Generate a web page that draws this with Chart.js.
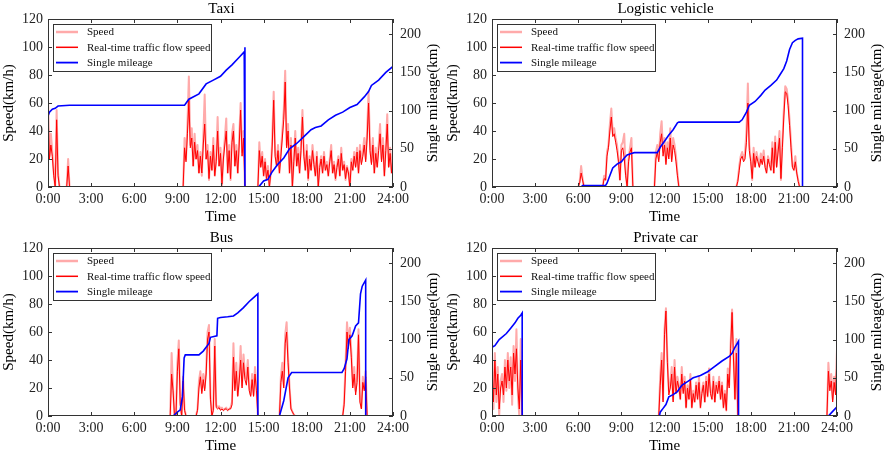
<!DOCTYPE html>
<html lang="en">
<head>
<meta charset="UTF-8">
<title>Vehicle speed and single mileage</title>
<style>
    html, body { margin: 0; padding: 0; background: #fff; overflow: hidden; }
    .panel { position: absolute; width: 443px; height: 228px; }
</style>
<script src="https://cdn.jsdelivr.net/npm/chart.js"></script>
</head>
<body>
<div class="panel" style="left:0;top:0"><canvas id="taxi" width="443" height="228"></canvas></div>
<div class="panel" style="left:444px;top:0"><canvas id="logistic" width="443" height="228"></canvas></div>
<div class="panel" style="left:0;top:229px"><canvas id="bus" width="443" height="228"></canvas></div>
<div class="panel" style="left:444px;top:229px"><canvas id="car" width="443" height="228"></canvas></div>

<script>
// sampling step (hours) of the speed segments
const STEP = 0.1;
const hourTicks = [0, 3, 6, 9, 12, 15, 18, 21, 24];

// ---- Taxi ----
const taxiStarts = [0, 1.3, 9.4, 14.6];
const taxiSpeed = [
    [62, 22, 38, 25, 10, 0, 55, 10, 0],
    [0, 20, 0],
    [0, 35, 20, 45, 79, 30, 42, 15, 38, 20,
     30, 10, 25, 8, 35, 66, 20, 30, 5, 25,
     12, 35, 8, 20, 50, 15, 28, 0, 22, 35,
     49, 10, 30, 5, 38, 45, 15, 30, 10, 35,
     60, 25, 40, 0],
    [0, 32, 15, 25, 8, 20, 5, 15, 0, 10,
     35, 68, 25, 15, 30, 10, 25, 40, 55, 83,
     30, 45, 10, 35, 0, 20, 40, 15, 28, 10,
     30, 55, 25, 12, 30, 5, 22, 12, 30, 18,
     8, 25, 0, 15, 22, 10, 25, 12, 18, 8,
     20, 30, 10, 18, 5, 15, 22, 8, 28, 12,
     18, 5, 15, 10, 0, 20, 12, 25, 15, 28,
     10, 30, 18, 25, 35, 20, 40, 68, 30, 18,
     35, 10, 28, 15, 30, 45, 20, 35, 8, 30,
     52, 15, 28, 10, 25]
];
const taxiFlow = [
    [55, 20, 30, 22, 8, 0, 48, 8, 0],
    [0, 15, 0],
    [0, 28, 18, 38, 62, 28, 35, 15, 32, 20,
     26, 10, 22, 10, 30, 45, 20, 26, 6, 22,
     12, 30, 8, 18, 40, 15, 24, 2, 20, 30,
     40, 10, 26, 6, 32, 40, 15, 26, 10, 30,
     55, 22, 35, 0],
    [0, 26, 14, 22, 8, 18, 6, 12, 0, 10,
     30, 62, 22, 15, 26, 10, 22, 35, 48, 75,
     28, 40, 10, 30, 0, 18, 35, 15, 24, 10,
     26, 50, 22, 12, 26, 6, 20, 12, 26, 16,
     8, 22, 0, 14, 20, 10, 22, 12, 16, 8,
     18, 26, 10, 16, 6, 14, 20, 8, 24, 12,
     16, 6, 14, 10, 0, 18, 12, 22, 14, 25,
     10, 26, 16, 22, 30, 18, 35, 60, 26, 16,
     30, 10, 24, 14, 26, 38, 18, 30, 8, 26,
     45, 14, 24, 10, 22]
];
const taxiMileT = [0, 0.1, 0.3, 0.5, 0.7, 1.5, 9.5, 9.8, 10.5, 11.0, 11.5, 12.0, 12.4, 12.8, 13.3, 13.65, 13.7, 13.7,
    14.65, 15.0, 15.3, 15.6, 16.0, 16.4, 16.8, 17.3, 17.8, 18.3, 18.6, 19.0, 19.5, 20.0, 20.5, 21.0, 21.5, 22.0, 22.3, 22.5, 23.0, 23.5, 24];
const taxiMile = [93, 98, 102, 103, 106, 107, 107, 115, 122, 135, 140, 145, 153, 160, 170, 177, 183, 0,
    0, 8, 10, 20, 30, 38, 50, 57, 66, 75, 78, 80, 88, 94, 98, 104, 108, 118, 125, 133, 140, 150, 158];

// ---- Logistic vehicle ----
const logStarts = [6.0, 7.7, 11.3, 17.0];
const logSpeed = [
    [0, 4, 15, 6, 0],
    [0, 8, 5, 25, 30, 45, 56, 38, 42, 35, 30, 20, 5, 30, 32, 38, 10, 0, 20, 28, 35, 0],
    [0, 25, 30, 20, 38, 47, 25, 35, 18, 32, 22, 42, 20, 35, 30, 22, 10, 0],
    [0, 5, 15, 22, 25, 20, 24, 40, 74, 30,
     20, 5, 28, 15, 25, 20, 15, 24, 18, 26,
     15, 10, 22, 18, 12, 32, 10, 36, 15, 28,
     40, 5, 32, 55, 72, 70, 62, 48, 32, 15,
     12, 22, 10, 5, 0]
];
const logFlow = [
    [0, 3, 10, 5, 0],
    [0, 6, 5, 22, 28, 40, 50, 36, 38, 32, 26, 18, 5, 26, 28, 20, 8, 0, 18, 25, 28, 0],
    [0, 20, 25, 18, 32, 38, 22, 30, 16, 28, 20, 35, 18, 30, 26, 18, 8, 0],
    [0, 4, 12, 20, 22, 18, 20, 32, 60, 26,
     18, 6, 24, 14, 22, 18, 14, 20, 16, 22,
     14, 10, 20, 16, 12, 28, 10, 32, 14, 25,
     35, 6, 28, 50, 68, 67, 58, 44, 28, 14,
     12, 18, 10, 4, 0]
];
const logMileT = [0, 6.2, 6.3, 7.9, 8.0, 8.2, 8.4, 8.7, 9.0, 9.2, 9.4, 9.7, 9.9, 11.5, 11.7, 12.0, 12.3, 12.6, 12.9, 13.0,
    17.2, 17.4, 17.7, 17.9, 18.3, 18.7, 19.0, 19.4, 19.8, 20.0, 20.3, 20.5, 20.7, 20.9, 21.1, 21.3, 21.6, 21.6, 24];
const logMile = [0, 0, 2, 2, 5, 15, 25, 30, 33, 38, 42, 44, 45, 45, 52, 60, 68, 75, 84, 85,
    85, 88, 98, 107, 112, 120, 127, 133, 140, 146, 155, 165, 180, 189, 192, 194, 195, 0, 0];

// ---- Bus ----
const busStarts = [8.5, 10.3, 16.1, 20.5];
const busSpeed = [
    [0, 45, 20, 0, 0, 38, 54, 10, 0, 28, 5, 0],
    [0, 5, 25, 32, 18, 30, 20, 33, 60, 65,
     15, 0, 5, 55, 8, 6, 7, 5, 6, 4,
     5, 6, 4, 5, 6, 10, 52, 20, 38, 15,
     28, 50, 22, 44, 30, 26, 40, 20, 15, 30,
     15, 35, 20, 0],
    [0, 28, 38, 22, 58, 67, 42, 22, 6, 3, 1, 0],
    [0, 10, 38, 67, 52, 63, 46, 22, 35, 18, 28, 62, 12, 6, 28, 20, 32, 0]
];
const busFlow = [
    [0, 30, 18, 0, 0, 32, 48, 8, 0, 25, 4, 0],
    [0, 4, 20, 28, 16, 26, 18, 30, 55, 60,
     12, 0, 4, 50, 6, 5, 6, 4, 5, 4,
     5, 5, 4, 5, 5, 8, 42, 18, 32, 14,
     25, 40, 20, 38, 26, 22, 35, 18, 14, 26,
     14, 30, 18, 0],
    [0, 24, 32, 20, 52, 60, 38, 20, 5, 3, 1, 0],
    [0, 8, 32, 60, 48, 58, 42, 20, 30, 15, 24, 58, 10, 5, 24, 18, 28, 0]
];
const busMileT = [0, 8.7, 9.0, 9.2, 9.35, 9.47, 9.55, 10.5, 10.8, 11.0, 11.2, 11.3, 11.75, 11.8,
    12.0, 12.5, 12.9, 13.2, 13.6, 14.0, 14.3, 14.6, 14.6, 16.1, 16.4, 16.7, 16.95,
    20.45, 20.6, 20.8, 20.93, 21.16, 21.4, 21.6, 21.74, 21.86, 22.1, 22.1, 24];
const busMile = [0, 0, 5, 8, 25, 76, 80, 80, 85, 90, 95, 103, 105, 128,
    129, 130, 131, 135, 142, 150, 155, 160, 0, 0, 20, 50, 57,
    57, 62, 75, 100, 105, 118, 122, 160, 170, 178, 0, 0];

// ---- Private car ----
const carStarts = [0, 11.6, 23.3];
const carSpeed = [
    [40, 5, 45, 10, 35, 0, 25, 30, 10, 40, 18, 45, 20, 42, 8, 50, 25, 62, 15, 0, 55, 0],
    [0, 28, 45, 12, 62, 77, 42, 18, 22, 35,
     12, 40, 18, 28, 22, 12, 35, 18, 28, 6,
     22, 12, 30, 6, 18, 10, 24, 12, 28, 6,
     18, 24, 10, 28, 14, 34, 18, 12, 28, 10,
     24, 18, 28, 12, 24, 6, 18, 4, 34, 22,
     52, 76, 45, 12, 55, 0],
    [0, 38, 22, 30, 12, 28, 18, 48]
];
const carFlow = [
    [35, 10, 40, 15, 30, 5, 20, 25, 15, 35, 20, 40, 25, 35, 15, 45, 30, 48, 20, 5, 40, 0],
    [0, 22, 40, 10, 58, 75, 38, 15, 20, 30,
     10, 35, 16, 25, 20, 12, 30, 16, 25, 6,
     20, 12, 26, 6, 16, 10, 22, 12, 24, 6,
     16, 22, 10, 25, 14, 30, 16, 12, 25, 10,
     22, 16, 25, 12, 22, 6, 16, 4, 30, 20,
     48, 74, 40, 12, 45, 0],
    [0, 32, 18, 25, 10, 24, 15, 44]
];
const carMileT = [0, 0.2, 0.5, 1.0, 1.3, 1.6, 1.8, 2.0, 2.1, 2.1, 11.65, 11.7, 11.9, 12.1, 12.3, 12.6, 12.9, 13.2, 13.6, 14.0,
    14.5, 15.0, 15.5, 16.0, 16.5, 16.7, 16.9, 17.15, 17.15, 23.4, 23.7, 24];
const carMile = [90, 92, 100, 108, 115, 122, 128, 132, 135, 0, 0, 5, 10, 15, 25, 28, 32, 40, 45, 50,
    53, 58, 65, 72, 78, 82, 90, 98, 0, 0, 6, 12];

const FONT = "'Liberation Serif', 'Times New Roman', serif";
const INK = '#222';
const RIGHT_TITLE = 'Single mileage(km)';

function segPoints(starts, segs) {
    const pts = [];
    if (starts[0] > 0) pts.push({ x: 0, y: 0 });
    starts.forEach((t0, i) => {
        segs[i].forEach((v, j) => pts.push({ x: +(t0 + j * STEP).toFixed(2), y: v }));
    });
    if (pts[pts.length - 1].x < 24) pts.push({ x: 24, y: 0 });
    return pts;
}

function xyPoints(ts, vs) {
    return ts.map((t, i) => ({ x: t, y: vs[i] }));
}

// box frame, inward ticks, right axis title (bottom-to-top) and the legend inside the plot
const framePlugin = {
    id: 'frame',
    afterDraw(chart) {
        const { ctx, chartArea: a, scales } = chart;
        const tl = 4;
        ctx.save();
        ctx.strokeStyle = '#333';
        ctx.lineWidth = 1;
        ctx.strokeRect(a.left + 0.5, a.top + 0.5, a.right - a.left - 1, a.bottom - a.top - 1);
        ctx.beginPath();
        scales.x.ticks.forEach(t => {
            const px = Math.round(scales.x.getPixelForValue(t.value)) + 0.5;
            ctx.moveTo(px, a.bottom); ctx.lineTo(px, a.bottom - tl);
            ctx.moveTo(px, a.top); ctx.lineTo(px, a.top + tl);
        });
        scales.y.ticks.forEach(t => {
            const py = Math.round(scales.y.getPixelForValue(t.value)) + 0.5;
            ctx.moveTo(a.left, py); ctx.lineTo(a.left + tl, py);
        });
        scales.y1.ticks.forEach(t => {
            const py = Math.round(scales.y1.getPixelForValue(t.value)) + 0.5;
            ctx.moveTo(a.right, py); ctx.lineTo(a.right - tl, py);
        });
        ctx.stroke();

        // right axis title, read from bottom to top like the left one
        ctx.save();
        ctx.translate(chart.width - 10, (a.top + a.bottom) / 2);
        ctx.rotate(-Math.PI / 2);
        ctx.font = '15px ' + FONT;
        ctx.fillStyle = '#000';
        ctx.textAlign = 'center';
        ctx.textBaseline = 'middle';
        ctx.fillText(RIGHT_TITLE, 0, 0);
        ctx.restore();

        // legend
        const x0 = a.left + 5, y0 = a.top + 5, w = 158, h = 47;
        ctx.fillStyle = '#fff';
        ctx.fillRect(x0, y0, w, h);
        ctx.strokeStyle = '#333';
        ctx.lineWidth = 1;
        ctx.strokeRect(x0 + 0.5, y0 + 0.5, w, h);
        ctx.font = '11px ' + FONT;
        ctx.textBaseline = 'middle';
        chart.data.datasets.forEach((ds, i) => {
            const y = y0 + 8 + i * 15.3;
            ctx.beginPath();
            ctx.strokeStyle = ds.borderColor;
            ctx.lineWidth = ds.legendWidth;
            ctx.moveTo(x0 + 3, y); ctx.lineTo(x0 + 25, y);
            ctx.stroke();
            ctx.fillStyle = '#111';
            ctx.fillText(ds.label, x0 + 34, y + 0.5);
        });
        ctx.restore();
    }
};

function makeChart(id, title, starts, speed, flow, mileT, mile) {
    const ctx = document.getElementById(id).getContext('2d');
    return new Chart(ctx, {
        type: 'line',
        data: {
            datasets: [
                { label: 'Speed', data: segPoints(starts, speed), borderColor: '#ffaaaa', borderWidth: 2,
                  legendWidth: 2.5, order: 3, yAxisID: 'y', borderJoinStyle: 'round' },
                { label: 'Real-time traffic flow speed', data: segPoints(starts, flow), borderColor: '#ff0000', borderWidth: 1,
                  legendWidth: 1.5, order: 2, yAxisID: 'y', borderJoinStyle: 'round' },
                { label: 'Single mileage', data: xyPoints(mileT, mile), borderColor: '#0000ff', borderWidth: 1.6,
                  legendWidth: 1.8, order: 1, yAxisID: 'y1' }
            ]
        },
        options: {
            responsive: false,
            animation: false,
            elements: { point: { radius: 0 }, line: { tension: 0 } },
            layout: { padding: 0 },
            plugins: {
                legend: { display: false },
                tooltip: { enabled: false },
                title: { display: true, text: title, color: '#000',
                         font: { family: FONT, size: 15, weight: 'normal', lineHeight: 1.2 },
                         padding: { top: 0, bottom: 1 } }
            },
            scales: {
                x: {
                    type: 'linear', min: 0, max: 24,
                    afterBuildTicks: s => { s.ticks = hourTicks.map(v => ({ value: v })); },
                    ticks: { callback: v => v + ':00', color: INK, padding: 4, maxRotation: 0, autoSkip: false,
                             font: { family: FONT, size: 14 } },
                    grid: { display: false, drawTicks: false },
                    border: { display: false },
                    title: { display: true, text: 'Time', color: '#000', font: { family: FONT, size: 15 },
                             padding: { top: 0, bottom: 2 } },
                    afterFit: s => { s.height = 41; }
                },
                y: {
                    position: 'left', min: 0, max: 120,
                    ticks: { stepSize: 20, color: INK, padding: 5, font: { family: FONT, size: 14 } },
                    grid: { display: false, drawTicks: false },
                    border: { display: false },
                    title: { display: true, text: 'Speed(km/h)', color: '#000', font: { family: FONT, size: 15 },
                             padding: { top: 0, bottom: 0 } },
                    afterFit: s => { s.width = 48; }
                },
                y1: {
                    position: 'right', min: 0, max: 220,
                    afterBuildTicks: s => { s.ticks = s.ticks.filter(t => t.value % 50 === 0); },
                    ticks: { stepSize: 50, color: INK, padding: 7, font: { family: FONT, size: 14 } },
                    grid: { display: false, drawTicks: false },
                    border: { display: false },
                    title: { display: false },
                    afterFit: s => { s.width = 50; }
                }
            }
        },
        plugins: [framePlugin]
    });
}

makeChart('taxi', 'Taxi', taxiStarts, taxiSpeed, taxiFlow, taxiMileT, taxiMile);
makeChart('logistic', 'Logistic vehicle', logStarts, logSpeed, logFlow, logMileT, logMile);
makeChart('bus', 'Bus', busStarts, busSpeed, busFlow, busMileT, busMile);
makeChart('car', 'Private car', carStarts, carSpeed, carFlow, carMileT, carMile);
</script>
</body>
</html>
